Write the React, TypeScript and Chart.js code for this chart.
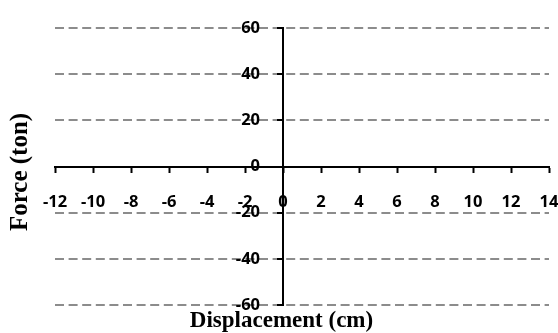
import React, { useEffect, useRef } from 'react';
import { Chart, registerables, LinearScale } from 'chart.js';

// ---- data ----
const xMin = -12;
const xMax = 14;
const xStep = 2;
const yMin = -60;
const yMax = 60;
const yStep = 20;
const xTitle = 'Displacement (cm)';
const yTitle = 'Force (ton)';
// The reference chart has no plotted series: it is an empty template.
const seriesPoints: { x: number; y: number }[] = [];

// gap between the crossing y axis and the right edge of its tick labels
const Y_LABEL_GAP = 23;

// Linear scale whose labels keep a gap from an axis that crosses the chart area
class CrossingLinearScale extends LinearScale {
  static id = 'crossingLinear';
  static defaults = LinearScale.defaults;
  _computeLabelItems(chartArea: any) {
    const items = (super._computeLabelItems as any)(chartArea);
    if ((this as any).axis === 'y') {
      for (const it of items) {
        it.options.translation = [it.options.translation[0] - Y_LABEL_GAP, it.options.translation[1]];
      }
    }
    return items;
  }
}

Chart.register(...registerables, CrossingLinearScale as any);

const tickFont = { family: '"Open Sans", "Noto Sans", sans-serif', size: 16.5, weight: 'bold' as const };
const titleFontFamily = '"Liberation Serif", "Times New Roman", serif';

export default function App() {
  const ref = useRef<HTMLCanvasElement>(null);

  useEffect(() => {
    if (!ref.current) return;
    const chart = new Chart(ref.current, {
      type: 'scatter',
      data: {
        datasets: [
          {
            data: seriesPoints,
            borderColor: '#000',
            backgroundColor: '#000',
            pointRadius: 3,
          },
        ],
      },
      options: {
        animation: false,
        responsive: false,
        devicePixelRatio: 1,
        layout: { padding: { top: 21, right: 0, bottom: 10, left: 5 } },
        plugins: {
          legend: { display: false },
          tooltip: { enabled: false },
          title: {
            display: true,
            text: yTitle,
            position: 'left',
            color: '#000',
            font: { family: titleFontFamily, size: 25, weight: 'bold', lineHeight: 1.2 },
            padding: { top: 1, bottom: 19 },
          },
          subtitle: {
            display: true,
            text: xTitle,
            position: 'bottom',
            color: '#000',
            font: { family: titleFontFamily, size: 23, weight: 'bold', lineHeight: 1 },
            padding: { top: 4, bottom: -13 },
          },
        },
        scales: {
          x: {
            type: 'crossingLinear' as any,
            min: xMin,
            max: xMax,
            position: { y: 0 },
            afterFit: (s: any) => {
              s.height = 0;
              s.paddingLeft = 0;
              s.paddingRight = 9;
            },
            grid: {
              display: true,
              drawOnChartArea: false,
              drawTicks: true,
              tickLength: 5,
              tickColor: '#000',
              tickWidth: 2,
            },
            border: { display: true, color: '#000', width: 2 },
            ticks: {
              stepSize: xStep,
              padding: 21,
              color: '#000',
              font: tickFont,
              maxRotation: 0,
              autoSkip: false,
            },
          },
          y: {
            type: 'crossingLinear' as any,
            min: yMin,
            max: yMax,
            position: { x: 0 },
            afterFit: (s: any) => {
              s.width = 0;
            },
            grid: {
              display: true,
              drawOnChartArea: true,
              drawTicks: true,
              tickLength: 5,
              tickColor: '#000',
              tickWidth: 2,
              tickBorderDash: [],
              lineWidth: 2,
              color: (ctx: any) =>
                ctx.tick && ctx.tick.value === 0 ? 'rgba(0,0,0,0)' : '#8c8c8c',
            },
            border: { display: true, color: '#000', width: 2, dash: [9, 4.6] },
            ticks: {
              stepSize: yStep,
              padding: 18,
              color: '#000',
              font: tickFont,
              autoSkip: false,
            },
          },
        },
      },
    });
    return () => chart.destroy();
  }, []);

  return (
    <div style={{ position: 'fixed', left: 0, top: 0, width: 558, height: 333, background: '#fff' }}>
      <canvas ref={ref} width={558} height={333} />
    </div>
  );
}
